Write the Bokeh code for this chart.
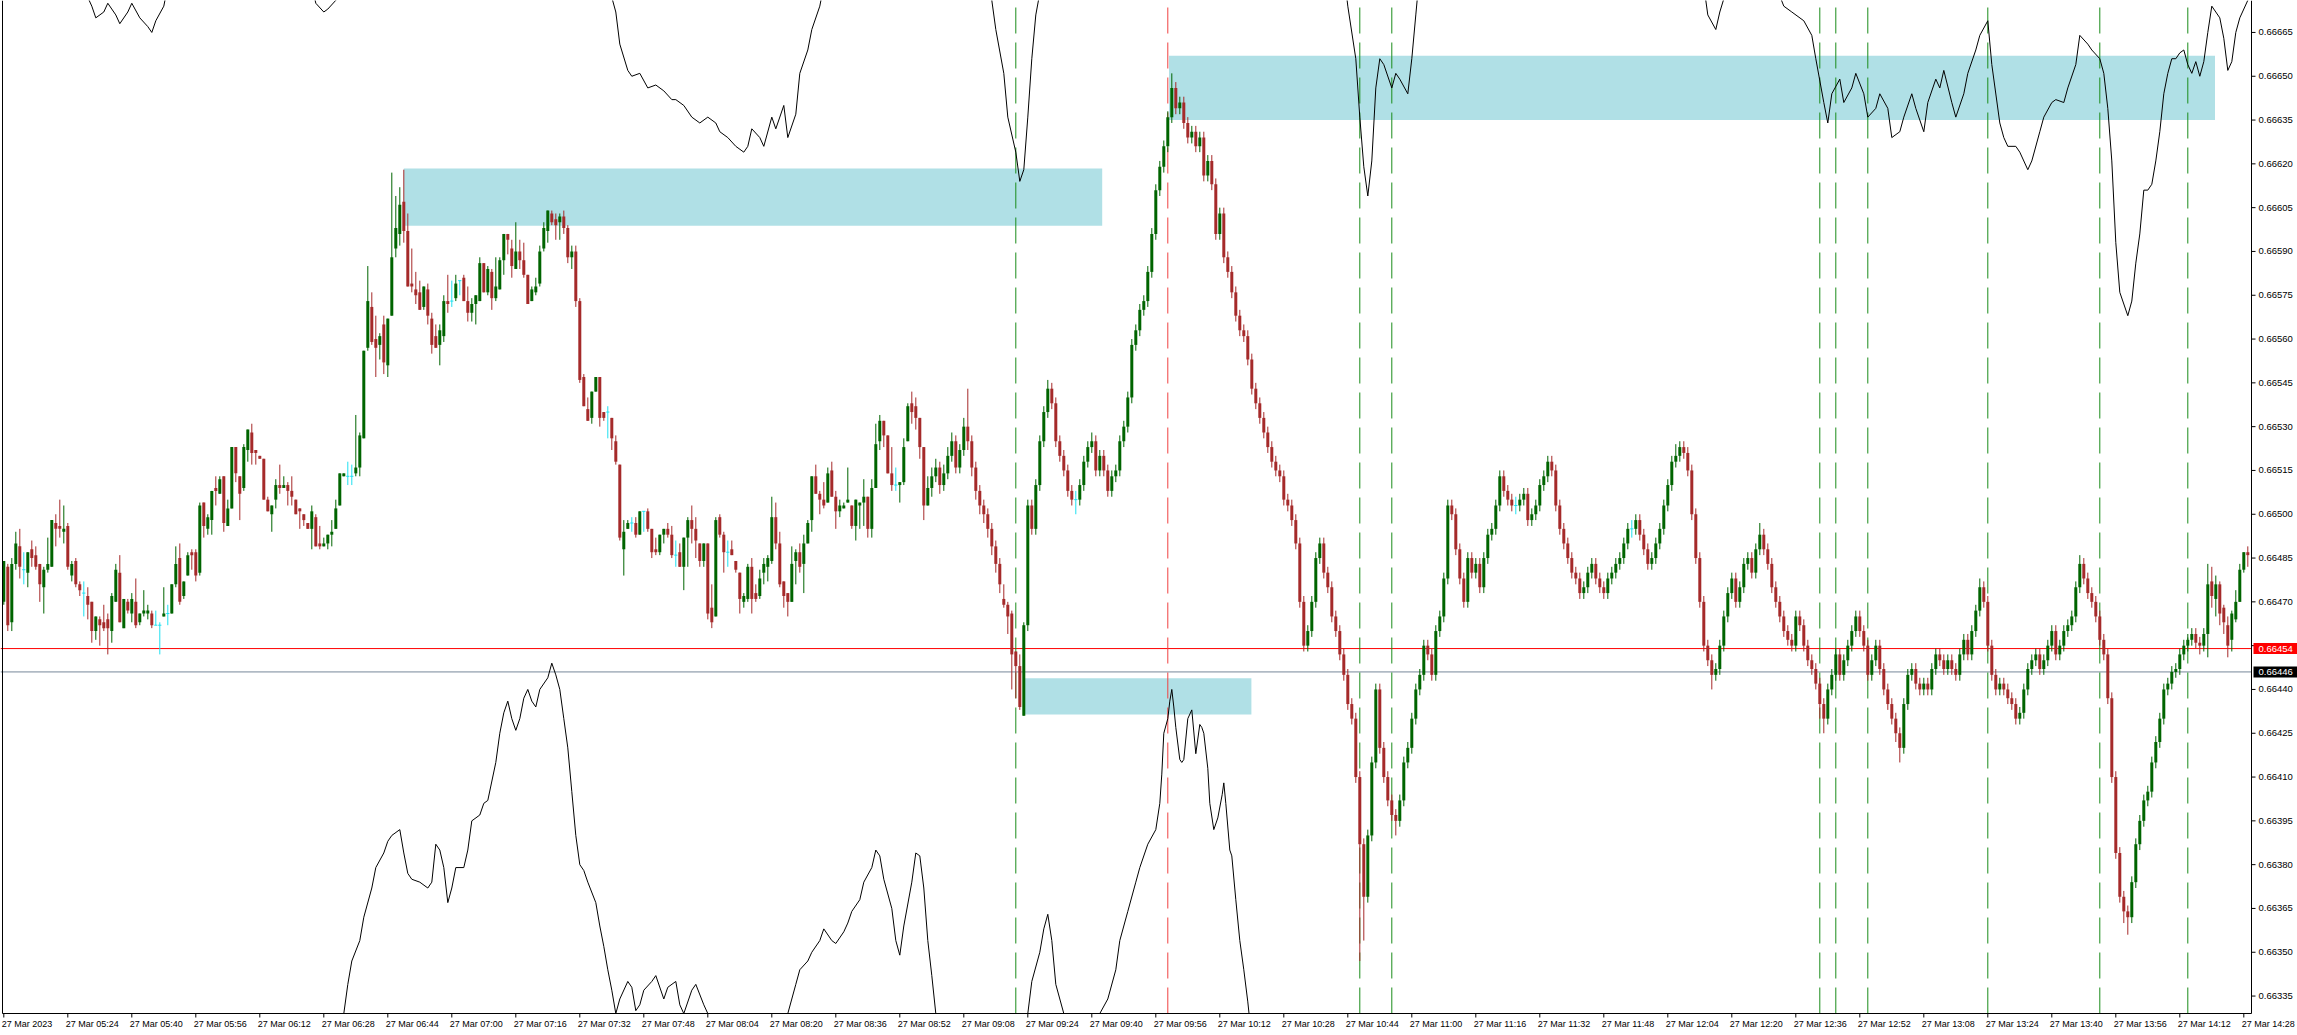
from bokeh.plotting import figure
from bokeh.models import Range1d, ColumnDataSource
from bokeh.core.properties import value
from bokeh.embed import file_html
from bokeh.resources import INLINE

# AUDUSD-like M1 candles, 27 Mar 2023 05:08 .. 14:29 ; prices in 1e-5 units (pipettes)
open_ = [
66470,66482,66463,66483,66489,66481,66480,66488,66486,66483,
66475,66481,66482,66497,66496,66494,66496,66479,66484,66476,
66473,66472,66470,66460,66464,66463,66464,66460,66470,66480,
66461,66470,66466,66470,66463,66466,66466,66466,66462,66462,
66465,66466,66466,66476,66485,66472,66479,66487,66487,66480,
66504,66495,66498,66509,66507,66513,66496,66502,66523,66513,
66509,66522,66528,66522,66520,66519,66505,66500,66505,66510,
66509,66510,66508,66505,66502,66500,66497,66495,66499,66490,
66489,66490,66493,66495,66503,66513,66513,66513,66514,66516,
66526,66557,66571,66560,66558,66565,66551,66568,66591,66596,
66607,66597,66579,66577,66576,66571,66577,66567,66561,66558,
66561,66573,66573,66574,66580,66581,66573,66569,66572,66573,
66586,66576,66583,66574,66577,66587,66596,66591,66584,66590,
66587,66582,66573,66576,66579,66591,66597,66603,66601,66600,
66602,66598,66588,66590,66573,66547,66536,66533,66542,66547,
66535,66535,66533,66525,66517,66488,66495,66497,66497,66493,
66501,66501,66495,66488,66487,66493,66495,66493,66486,66487,
66482,66492,66498,66495,66490,66484,66490,66468,66465,66499,
66493,66487,66488,66484,66480,66470,66471,66482,66473,66472,
66480,66482,66484,66499,66490,66477,66473,66470,66484,66487,
66483,66490,66498,66513,66507,66505,66504,66515,66506,66501,
66502,66504,66503,66496,66503,66504,66506,66495,66509,66525,
66532,66527,66514,66510,66510,66511,66525,66538,66537,66533,
66523,66503,66509,66513,66516,66510,66514,66520,66525,66516,
66522,66530,66525,66516,66508,66503,66500,66495,66489,66483,
66471,66469,66466,66453,66448,66431,66462,66503,66495,66510,
66525,66535,66543,66538,66525,66520,66515,66508,66505,66505,
66510,66518,66523,66525,66515,66520,66515,66508,66513,66515,
66525,66530,66540,66558,66563,66570,66573,66583,66596,66611,
66619,66626,66636,66646,66639,66641,66634,66629,66631,66626,
66629,66616,66621,66613,66596,66603,66588,66583,66576,66568,
66563,66561,66553,66543,66538,66533,66528,66523,66518,66515,
66513,66505,66503,66498,66490,66470,66455,66460,66470,66485,
66490,66480,66475,66465,66460,66452,66445,66435,66430,66410,
66387,66369,66390,66415,66440,66420,66410,66402,66397,66395,
66402,66415,66420,66430,66440,66445,66455,66452,66445,66460,
66465,66478,66503,66500,66488,66478,66470,66485,66480,66483,
66475,66485,66493,66495,66503,66513,66508,66505,66503,66503,
66505,66507,66498,66500,66503,66510,66513,66518,66515,66503,
66495,66490,66485,66480,66478,66473,66475,66480,66483,66478,
66475,66473,66478,66480,66483,66485,66490,66495,66495,66498,
66493,66488,66483,66485,66490,66495,66503,66510,66518,66520,
66523,66521,66515,66500,66485,66470,66455,66450,66445,66447,
66455,66465,66473,66478,66470,66475,66483,66485,66480,66488,
66493,66488,66483,66475,66470,66465,66460,66457,66455,66465,
66462,66455,66450,66447,66442,66435,66430,66440,66445,66452,
66445,66450,66455,66460,66465,66460,66455,66445,66450,66455,
66447,66440,66435,66430,66425,66420,66435,66445,66447,66442,
66440,66442,66440,66447,66452,66450,66447,66450,66447,66445,
66452,66457,66452,66460,66467,66475,66470,66455,66445,66440,
66442,66440,66437,66435,66430,66432,66440,66447,66450,66452,
66447,66450,66455,66460,66452,66455,66460,66462,66465,66475,
66483,66478,66473,66470,66465,66457,66452,66437,66410,66384,
66369,66364,66362,66374,66387,66395,66402,66405,66415,66422,
66430,66440,66442,66446,66447,66452,66455,66457,66459,66456,
66455,66459,66477,66471,66476,66468,66462,66457,66464,66470,
66481,66487]

high = [
66484,66483,66485,66494,66495,66487,66487,66491,66489,66483,
66482,66492,66498,66500,66505,66503,66497,66484,66485,66477,
66477,66475,66470,66465,66465,66469,66466,66473,66483,66486,
66471,66471,66473,66478,66466,66474,66469,66467,66467,66463,
66475,66469,66476,66489,66490,66477,66487,66488,66488,66504,
66504,66500,66508,66513,66513,66513,66505,66523,66523,66513,
66524,66529,66531,66522,66520,66519,66506,66503,66512,66517,
66513,66511,66513,66505,66502,66500,66497,66503,66500,66496,
66492,66493,66498,66505,66514,66514,66518,66517,66534,66528,
66556,66585,66576,66568,66562,66568,66567,66617,66609,66612,
66618,66603,66591,66583,66580,66578,66579,66569,66565,66565,
66575,66582,66580,66582,66580,66582,66578,66574,66575,66588,
66586,66585,66584,66588,66588,66596,66596,66594,66600,66594,
66593,66582,66578,66581,66592,66600,66604,66604,66603,66603,
66604,66599,66592,66592,66574,66548,66540,66542,66547,66547,
66535,66537,66533,66527,66517,66498,66498,66499,66499,66501,
66501,66502,66495,66492,66493,66495,66497,66496,66491,66490,
66492,66499,66503,66499,66490,66490,66490,66476,66499,66500,
66494,66491,66491,66484,66480,66473,66483,66485,66476,66481,
66485,66486,66506,66504,66494,66477,66473,66489,66488,66490,
66493,66498,66513,66517,66508,66511,66516,66518,66508,66505,
66504,66516,66503,66505,66504,66512,66506,66512,66531,66534,
66532,66527,66523,66516,66511,66526,66538,66542,66540,66533,
66523,66513,66516,66519,66518,66517,66523,66528,66527,66524,
66533,66543,66527,66518,66510,66505,66502,66497,66491,66485,
66476,66470,66467,66453,66452,66463,66505,66505,66512,66527,
66537,66546,66545,66540,66527,66522,66517,66510,66508,66512,
66520,66525,66528,66527,66522,66522,66517,66515,66517,66527,
66532,66542,66560,66565,66572,66575,66585,66598,66613,66621,
66628,66638,66651,66648,66643,66643,66636,66633,66633,66631,
66631,66623,66623,66615,66605,66605,66590,66585,66578,66570,
66565,66563,66555,66545,66540,66535,66530,66525,66520,66517,
66515,66507,66505,66500,66492,66472,66462,66472,66487,66492,
66492,66482,66477,66467,66462,66454,66447,66437,66432,66412,
66389,66392,66417,66442,66442,66422,66412,66404,66399,66404,
66417,66422,66432,66442,66447,66457,66457,66454,66462,66467,
66480,66505,66505,66502,66490,66480,66487,66487,66485,66485,
66487,66495,66497,66505,66515,66515,66510,66507,66506,66507,
66509,66509,66502,66505,66512,66515,66520,66520,66517,66505,
66497,66492,66487,66482,66480,66477,66482,66485,66485,66480,
66477,66480,66482,66485,66487,66492,66497,66498,66500,66500,
66495,66490,66487,66492,66497,66505,66512,66520,66524,66525,
66525,66523,66517,66502,66487,66472,66457,66452,66449,66457,
66467,66475,66480,66480,66477,66485,66487,66487,66490,66497,
66495,66490,66485,66477,66472,66467,66462,66459,66467,66467,
66464,66457,66452,66449,66444,66437,66442,66447,66454,66454,
66452,66457,66462,66467,66467,66462,66457,66452,66457,66457,
66449,66442,66437,66432,66427,66437,66447,66449,66449,66444,
66444,66444,66449,66454,66454,66452,66452,66452,66449,66454,
66459,66459,66462,66469,66478,66477,66472,66457,66447,66444,
66444,66442,66439,66437,66434,66442,66449,66452,66454,66454,
66452,66457,66462,66462,66457,66462,66464,66467,66477,66486,
66485,66480,66475,66472,66467,66459,66454,66439,66412,66386,
66371,66366,66376,66389,66397,66404,66407,66417,66424,66432,
66442,66444,66448,66449,66454,66457,66459,66461,66461,66458,
66461,66483,66482,66479,66477,66469,66465,66467,66474,66483,
66487,66489]

low = [
66469,66460,66460,66481,66478,66476,66475,66482,66481,66470,
66466,66480,66482,66489,66492,66490,66481,66477,66475,66472,
66465,66464,66456,66457,66455,66460,66452,66456,66470,66463,
66461,66466,66463,66461,66462,66465,66464,66461,66462,66452,
66465,66462,66466,66475,66469,66471,66479,66481,66477,66479,
66492,66493,66493,66503,66507,66494,66496,66502,66511,66498,
66508,66518,66517,66517,66519,66505,66501,66494,66502,66507,
66509,66503,66503,66500,66495,66496,66495,66488,66489,66488,
66489,66488,66489,66495,66503,66513,66510,66510,66513,66513,
66526,66556,66558,66547,66553,66548,66547,66568,66588,66592,
66593,66578,66576,66572,66570,66570,66565,66555,66557,66551,
66559,66569,66571,66573,66575,66573,66566,66566,66565,66573,
66576,66575,66570,66573,66577,66582,66589,66581,66584,66584,
66581,66572,66573,66575,66578,66590,66593,66599,66594,66594,
66596,66586,66584,66571,66545,66537,66532,66531,66542,66530,
66532,66526,66522,66517,66491,66479,66495,66494,66492,66493,
66494,66494,66485,66486,66486,66490,66492,66485,66482,66482,
66474,66482,66490,66485,66482,66482,66464,66461,66465,66492,
66480,66482,66486,66480,66466,66468,66470,66466,66470,66471,
66476,66477,66483,66488,66475,66468,66465,66470,66476,66480,
66473,66490,66494,66507,66500,66502,66504,66506,66495,66499,
66502,66504,66495,66491,66495,66496,66492,66492,66509,66522,
66523,66514,66508,66508,66504,66510,66525,66531,66529,66519,
66498,66503,66506,66511,66507,66508,66512,66518,66514,66514,
66520,66522,66513,66505,66500,66497,66492,66486,66480,66473,
66468,66459,66440,66437,66433,66431,66460,66493,66493,66508,
66523,66533,66536,66523,66518,66513,66506,66503,66500,66503,
66508,66516,66521,66513,66513,66513,66506,66506,66511,66513,
66523,66528,66538,66556,66561,66568,66571,66581,66594,66609,
66617,66624,66634,66637,66637,66632,66627,66627,66624,66624,
66614,66614,66611,66594,66594,66586,66581,66574,66566,66561,
66559,66551,66541,66536,66531,66526,66521,66516,66513,66511,
66503,66501,66496,66488,66468,66453,66453,66458,66468,66483,
66478,66473,66463,66458,66450,66443,66433,66428,66408,66347,
66354,66367,66388,66413,66418,66408,66400,66395,66390,66393,
66400,66413,66418,66428,66438,66443,66450,66443,66443,66458,
66463,66476,66498,66486,66476,66468,66468,66478,66478,66473,
66473,66483,66491,66493,66501,66506,66503,66501,66500,66501,
66503,66496,66496,66498,66501,66508,66511,66513,66501,66493,
66488,66483,66478,66476,66471,66471,66473,66478,66476,66473,
66471,66471,66476,66478,66481,66483,66488,66492,66493,66491,
66486,66481,66481,66483,66488,66493,66501,66508,66516,66518,
66519,66513,66498,66483,66468,66453,66448,66440,66443,66445,
66453,66463,66471,66468,66468,66473,66481,66478,66478,66486,
66486,66481,66473,66468,66463,66458,66455,66453,66453,66460,
66453,66448,66445,66440,66430,66425,66428,66438,66443,66443,
66443,66448,66453,66458,66458,66453,66443,66443,66448,66445,
66438,66433,66428,66422,66415,66418,66433,66443,66440,66438,
66438,66438,66438,66445,66448,66445,66445,66445,66443,66443,
66450,66450,66450,66458,66465,66468,66453,66443,66438,66438,
66438,66435,66433,66428,66428,66430,66438,66445,66448,66445,
66445,66448,66453,66450,66450,66453,66458,66460,66463,66473,
66476,66471,66468,66463,66455,66450,66435,66408,66382,66367,
66360,66356,66360,66372,66385,66393,66400,66403,66413,66420,
66428,66438,66440,66444,66445,66450,66453,66455,66454,66452,
66453,66451,66468,66465,66462,66459,66451,66453,66463,66470,
66480,66482]

close = [
66484,66462,66483,66490,66482,66481,66487,66485,66482,66476,
66481,66483,66498,66495,66495,66495,66482,66483,66476,66474,
66473,66469,66460,66465,66462,66461,66461,66472,66481,66463,
66471,66467,66471,66462,66466,66467,66467,66462,66462,66462,
66466,66466,66476,66483,66470,66477,66486,66486,66479,66503,
66496,66499,66508,66508,66512,66497,66502,66523,66514,66507,
66523,66529,66521,66521,66519,66505,66501,66503,66510,66509,
66510,66508,66506,66500,66501,66498,66495,66501,66489,66489,
66490,66493,66494,66502,66514,66514,66513,66513,66516,66527,
66556,66573,66559,66557,66561,66552,66567,66588,66598,66606,
66597,66578,66578,66575,66570,66578,66568,66558,66557,66563,
66573,66572,66573,66579,66580,66573,66569,66572,66575,66586,
66576,66584,66574,66578,66587,66596,66594,66585,66590,66587,
66582,66572,66577,66578,66590,66598,66604,66600,66599,66602,
66598,66588,66590,66573,66546,66537,66532,66542,66547,66533,
66533,66535,66526,66518,66492,66494,66497,66497,66493,66501,
66501,66495,66487,66487,66493,66495,66493,66486,66486,66482,
66492,66498,66495,66491,66484,66490,66466,66463,66498,66493,
66487,66487,66486,66481,66471,66472,66482,66471,66471,66478,
66483,66485,66499,66490,66476,66472,66470,66483,66487,66482,
66490,66497,66513,66507,66505,66503,66514,66506,66501,66503,
66503,66505,66496,66505,66504,66506,66495,66509,66524,66532,
66527,66514,66510,66510,66511,66523,66537,66535,66533,66523,
66503,66509,66513,66516,66510,66514,66520,66525,66516,66522,
66530,66525,66516,66508,66503,66500,66495,66489,66483,66476,
66469,66465,66452,66448,66434,66462,66503,66495,66510,66525,
66535,66543,66538,66525,66520,66515,66508,66505,66505,66510,
66518,66523,66525,66515,66520,66515,66508,66513,66515,66525,
66530,66540,66558,66563,66570,66573,66583,66596,66611,66619,
66626,66636,66646,66639,66641,66634,66629,66631,66626,66629,
66616,66621,66613,66596,66603,66588,66583,66576,66568,66563,
66561,66553,66543,66538,66533,66528,66523,66518,66515,66513,
66505,66503,66498,66490,66470,66455,66460,66470,66485,66490,
66480,66475,66465,66460,66452,66445,66435,66430,66410,66387,
66369,66390,66415,66440,66420,66410,66402,66397,66395,66402,
66415,66420,66430,66440,66445,66455,66452,66445,66460,66465,
66478,66503,66500,66488,66478,66470,66485,66480,66483,66475,
66485,66493,66495,66503,66513,66508,66505,66503,66503,66505,
66507,66498,66500,66503,66510,66513,66518,66515,66503,66495,
66490,66485,66480,66478,66473,66475,66480,66483,66478,66475,
66473,66478,66480,66483,66485,66490,66495,66495,66498,66493,
66488,66483,66485,66490,66495,66503,66510,66518,66520,66523,
66521,66515,66500,66485,66470,66455,66450,66445,66447,66455,
66465,66473,66478,66470,66475,66483,66485,66480,66488,66493,
66488,66483,66475,66470,66465,66460,66457,66455,66465,66462,
66455,66450,66447,66442,66435,66430,66440,66445,66452,66445,
66450,66455,66460,66465,66460,66455,66445,66450,66455,66447,
66440,66435,66430,66425,66420,66435,66445,66447,66442,66440,
66442,66440,66447,66452,66450,66447,66450,66447,66445,66452,
66457,66452,66460,66467,66475,66470,66455,66445,66440,66442,
66440,66437,66435,66430,66432,66440,66447,66450,66452,66447,
66450,66455,66460,66452,66455,66460,66462,66465,66475,66483,
66478,66473,66470,66465,66457,66452,66437,66410,66384,66369,
66364,66362,66374,66387,66395,66402,66405,66415,66422,66430,
66440,66442,66446,66447,66452,66455,66457,66459,66456,66455,
66459,66476,66472,66476,66466,66463,66455,66466,66470,66481,
66487,66486]

# indicator lines (bar index, price in pipettes)
upper_k = [0,20,22,23,25,26,28,29,31,32,34,36,37,38,40,41,58,77,78,80,
81,83,84,109,151,153,154,156,157,159,161,163,165,167,168,170,172,174,176,178,
179,181,183,185,186,187,189,190,192,193,195,196,198,199,201,202,204,205,220,245,
247,248,250,251,253,254,255,256,257,258,260,290,335,336,338,339,340,341,342,343,
344,345,347,348,349,351,352,353,354,400,425,426,428,429,431,440,443,445,447,450,
452,453,455,456,457,459,460,462,463,465,466,468,469,471,472,474,475,477,478,480,
481,483,484,485,487,488,490,491,493,494,496,497,499,500,501,503,504,506,507,509,
510,512,513,515,516,518,519,521,522,524,525,526,527,528,529,531,532,533,534,535,
536,537,538,539,540,541,542,543,544,545,546,547,548,549,550,551,552,554,555,556,
557,558,559,561]
upper_v = [66700,66680,66674,66670,66672,66675,66671,66668,66672,66675,
66670,66667,66665,66669,66674,66681,66700,66681,66675,66672,
66673,66676,66684,66700,66682,66672,66661,66652,66650,66651,
66646,66647,66645,66642,66642,66640,66636,66634,66636,66634,
66631,66629,66626,66624,66626,66632,66629,66626,66636,66632,
66640,66629,66637,66651,66659,66666,66674,66681,66700,66686,
66676,66666,66651,66636,66624,66614,66618,66636,66656,66671,
66686,66700,66686,66674,66656,66636,66619,66609,66621,66646,
66656,66654,66646,66651,66649,66644,66656,66671,66686,66700,
66681,66671,66666,66672,66681,66700,66681,66674,66672,66669,
66664,66656,66641,66634,66644,66649,66641,66646,66651,66644,
66636,66639,66644,66639,66629,66631,66636,66644,66639,66631,
66641,66649,66646,66652,66641,66636,66644,66651,66659,66664,
66669,66654,66634,66629,66626,66626,66624,66618,66621,66631,
66636,66641,66642,66641,66646,66654,66664,66661,66659,66656,
66651,66639,66621,66593,66576,66568,66573,66586,66596,66611,
66611,66613,66621,66631,66644,66651,66656,66656,66658,66659,
66654,66651,66655,66650,66655,66665,66674,66670,66663,66652,
66655,66665,66670,66676]

lower_k = [0,73,84,85,86,87,89,90,92,93,95,96,97,99,100,101,102,104,106,107,
108,109,110,111,112,113,115,116,117,119,120,121,123,124,125,126,127,128,129,130,
131,132,133,134,136,137,138,139,140,141,142,143,144,145,146,148,149,150,151,152,
153,154,156,157,158,159,160,162,163,165,166,168,169,170,172,173,175,176,178,193,
196,198,199,201,202,204,205,207,208,210,211,212,214,215,217,218,219,220,222,223,
224,225,227,228,229,230,231,232,233,234,254,256,257,259,260,261,262,263,265,266,
270,272,274,276,278,279,281,283,284,286,288,289,289.5,290,291,291.5,292,292.5,293,294,
294.5,295,296,297,298,299,299.5,300,301,301.5,302.5,303.5,304.6,305,305.5,306.5,307,308,309,310,
311,312,313,562]
lower_v = [66290,66290,66314,66329,66339,66347,66354,66362,66372,66379,
66384,66388,66390,66392,66384,66377,66375,66374,66372,66374,
66387,66385,66379,66367,66372,66379,66379,66385,66395,66397,
66401,66402,66415,66425,66432,66436,66430,66426,66430,66437,
66440,66436,66434,66440,66444,66449,66445,66440,66430,66420,
66405,66390,66380,66378,66374,66367,66359,66352,66344,66337,
66329,66334,66340,66338,66330,66332,66337,66340,66342,66334,
66338,66340,66332,66329,66337,66339,66332,66329,66324,66324,
66329,66339,66344,66347,66350,66354,66358,66354,66353,66357,
66360,66364,66368,66374,66379,66385,66383,66375,66365,66354,
66349,66359,66374,66384,66383,66372,66354,66342,66329,66314,
66314,66329,66340,66350,66358,66363,66354,66339,66329,66314,
66314,66324,66329,66334,66344,66354,66364,66374,66379,66387,
66392,66401,66411,66425,66430,66436,66440,66434,66427,66416,
66415,66416,66430,66433,66418,66428,66427,66425,66413,66401,
66392,66396,66404,66408,66401,66385,66383,66368,66354,66344,
66333,66320,66300,66300]

# zones (bar index left/right, price top/bottom)
zone_left = [100, 291.3, 255.2]
zone_right = [274.6, 552.8, 311.9]
zone_top = [0.666184, 0.666570, 0.664438]
zone_bottom = [0.665988, 0.666350, 0.664314]

green_vlines = [253, 339, 347, 454, 458, 466, 496, 524, 546]
red_vlines = [291]
red_level = 0.66454
grey_level = 0.66446

price_ticks = [0.66335, 0.66350, 0.66365, 0.66380, 0.66395, 0.66410, 0.66425, 0.66440,
               0.66455, 0.66470, 0.66485, 0.66500, 0.66515, 0.66530, 0.66545, 0.66560,
               0.66575, 0.66590, 0.66605, 0.66620, 0.66635, 0.66650, 0.66665]
time_tick_bars = list(range(0, 561, 16))
time_labels = ["27 Mar 2023", "27 Mar 05:24", "27 Mar 05:40", "27 Mar 05:56", "27 Mar 06:12",
               "27 Mar 06:28", "27 Mar 06:44", "27 Mar 07:00", "27 Mar 07:16", "27 Mar 07:32",
               "27 Mar 07:48", "27 Mar 08:04", "27 Mar 08:20", "27 Mar 08:36", "27 Mar 08:52",
               "27 Mar 09:08", "27 Mar 09:24", "27 Mar 09:40", "27 Mar 09:56", "27 Mar 10:12",
               "27 Mar 10:28", "27 Mar 10:44", "27 Mar 11:00", "27 Mar 11:16", "27 Mar 11:32",
               "27 Mar 11:48", "27 Mar 12:04", "27 Mar 12:20", "27 Mar 12:36", "27 Mar 12:52",
               "27 Mar 13:08", "27 Mar 13:24", "27 Mar 13:40", "27 Mar 13:56", "27 Mar 14:12",
               "27 Mar 14:28"]

# ---------------- styling / layout ----------------
PIP = 1e-5
UP, DOWN, DOJI = "#006400", "#A52A2A", "#1EE0F0"
FONT = value("Liberation Sans")
FS = value("9.5px")
FS_T = value("9px")

W, H_ = 2297, 1035
S_X = 4.0                     # px per bar
X0 = -0.825
X1 = X0 + W / S_X
K_AX = 561.925                # price-scale line position (bars)
PPT = 2.92                    # px per pipette
Y0PX = 513.75                 # pixel row of 0.66500
Y_TOP = (66500 + Y0PX / PPT) * PIP
Y_BOT = (66500 - (H_ - Y0PX) / PPT) * PIP
AX_Y = (66500 - (1013 - Y0PX) / PPT) * PIP
TICK_X = 4 / S_X
TICK_Y = 4 / PPT * PIP
LEFT_BORDER = X0 + 2 / S_X

n = len(close)
xs = list(range(n))
O = [v * PIP for v in open_]
Hh = [v * PIP for v in high]
Ll = [v * PIP for v in low]
C = [v * PIP for v in close]
col = [UP if c > o else (DOWN if c < o else DOJI) for o, c in zip(open_, close)]

p = figure(width=W, height=H_, output_backend="svg", toolbar_location=None,
           x_range=Range1d(X0, X1), y_range=Range1d(Y_BOT, Y_TOP),
           x_axis_location=None, y_axis_location=None,
           min_border_left=0, min_border_top=0, min_border_right=0, min_border_bottom=0)
p.grid.visible = False
p.outline_line_color = None
p.background_fill_color = "white"
p.border_fill_color = "white"

# zones
p.quad(left=zone_left, right=zone_right, top=zone_top, bottom=zone_bottom,
       fill_color="#B0E0E6", line_color=None)

# horizontal levels
p.segment(x0=[X0, X0], y0=[red_level, grey_level], x1=[K_AX, K_AX], y1=[red_level, grey_level],
          line_color=["#FF0000", "#778899"], line_width=1)

# vertical dashed lines
p.segment(x0=green_vlines, y0=[AX_Y] * len(green_vlines), x1=green_vlines, y1=[Y_TOP] * len(green_vlines),
          line_color="#1A8C1A", line_width=1, line_dash="26 9")
p.segment(x0=red_vlines, y0=[AX_Y] * len(red_vlines), x1=red_vlines, y1=[Y_TOP] * len(red_vlines),
          line_color="#F04040", line_width=1, line_dash="26 9")

# indicator lines
p.line(upper_k, [v * PIP for v in upper_v], line_color="black", line_width=1)
p.line(lower_k, [v * PIP for v in lower_v], line_color="black", line_width=1)

# candles
src = ColumnDataSource(dict(x=xs, h=Hh, l=Ll, col=col))
p.segment(x0="x", y0="l", x1="x", y1="h", line_color="col", line_width=1, source=src)
body_idx = [i for i in range(n) if open_[i] != close[i]]
bsrc = ColumnDataSource(dict(x=[xs[i] for i in body_idx], top=[max(O[i], C[i]) for i in body_idx],
                             bot=[min(O[i], C[i]) for i in body_idx], col=[col[i] for i in body_idx]))
p.vbar(x="x", width=0.75, top="top", bottom="bot", fill_color="col", line_color=None, source=bsrc)
doji_idx = [i for i in range(n) if open_[i] == close[i]]
p.segment(x0=[xs[i] - 0.4 for i in doji_idx], y0=[C[i] for i in doji_idx],
          x1=[xs[i] + 0.4 for i in doji_idx], y1=[C[i] for i in doji_idx],
          line_color=DOJI, line_width=1)

# white margins under the time scale and beside the price scale
p.quad(left=[X0, K_AX], right=[X1, X1], top=[AX_Y, Y_TOP], bottom=[Y_BOT, Y_BOT],
       fill_color="white", line_color=None)

# frame lines
p.segment(x0=[LEFT_BORDER, K_AX, LEFT_BORDER], y0=[AX_Y, AX_Y, AX_Y], x1=[K_AX, K_AX, LEFT_BORDER],
          y1=[AX_Y, Y_TOP, Y_TOP], line_color="black", line_width=1)

# price scale
p.segment(x0=[K_AX] * len(price_ticks), y0=price_ticks, x1=[K_AX + TICK_X] * len(price_ticks), y1=price_ticks,
          line_color="black", line_width=1)
p.text(x=[K_AX] * len(price_ticks), y=price_ticks, text=[f"{t:.5f}" for t in price_ticks],
       x_offset=7, text_align="left", text_baseline="middle", text_font=FONT, text_font_size=FS,
       text_color="black")

# time scale
p.segment(x0=time_tick_bars, y0=[AX_Y] * len(time_tick_bars), x1=time_tick_bars,
          y1=[AX_Y - TICK_Y] * len(time_tick_bars), line_color="black", line_width=1)
p.text(x=time_tick_bars, y=[AX_Y] * len(time_tick_bars), text=time_labels, x_offset=-2, y_offset=5,
       text_align="left", text_baseline="top", text_font=FONT, text_font_size=FS_T, text_color="black")

# price flags
FL = K_AX + 2 / S_X
p.rect(x=[(FL + X1) / 2] * 2, y=[red_level, grey_level], width=X1 - FL, height=11, height_units="screen",
       fill_color=["#FF0000", "#000000"], line_color=None)
p.text(x=[K_AX, K_AX], y=[red_level, grey_level], text=[f"{red_level:.5f}", f"{grey_level:.5f}"],
       x_offset=7, text_align="left", text_baseline="middle", text_font=FONT, text_font_size=FS,
       text_color="white")

open("out.html", "w").write(file_html(p, INLINE))
